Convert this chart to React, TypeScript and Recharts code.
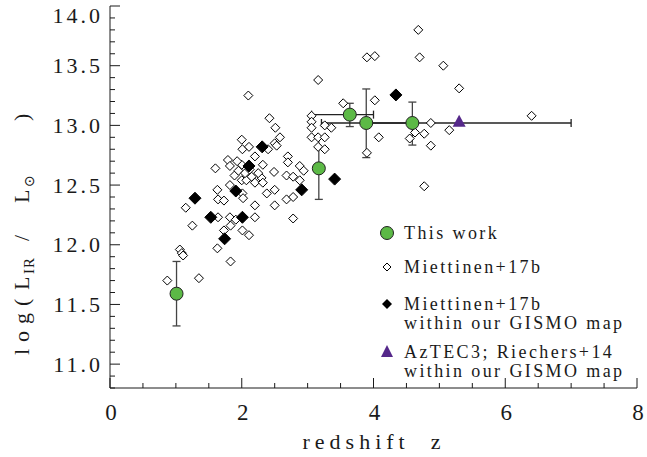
import { ScatterChart, Scatter, XAxis, YAxis, ErrorBar } from "recharts"

const W = 647
const H = 457
const FONT = "'Liberation Serif', 'DejaVu Serif', serif"
const INK = "#1a1a1a"
const GREEN = "#5cb946"
const PURPLE = "#55288a"

// Miettinen+17b, open diamonds: [z, log LIR]
const miettinen: [number, number][] = [
  [2.10, 13.25], [3.16, 13.38], [3.90, 13.57], [4.02, 13.58], [3.54, 13.185],
  [4.02, 13.21], [3.06, 13.08], [3.06, 13.03], [3.06, 12.98], [3.26, 13.0],
  [3.36, 12.98], [3.06, 12.9], [3.16, 12.9], [3.26, 12.9], [3.16, 12.82],
  [3.26, 12.8], [4.08, 12.9], [3.90, 12.77], [2.42, 13.06], [2.51, 12.98],
  [2.58, 12.9], [2.50, 12.85], [2.53, 12.83], [2.40, 12.8], [2.00, 12.88],
  [2.01, 12.8], [2.11, 12.82], [2.20, 12.74], [2.70, 12.74], [2.70, 12.69],
  [2.32, 12.67], [2.88, 12.66], [2.94, 12.62], [1.79, 12.71], [1.82, 12.66],
  [1.60, 12.64], [2.00, 12.67], [1.89, 12.58], [2.00, 12.54], [2.07, 12.54],
  [2.15, 12.57], [2.20, 12.52], [2.30, 12.56], [2.32, 12.52], [1.95, 12.62],
  [2.05, 12.6], [2.12, 12.63], [2.25, 12.6], [1.93, 12.7], [2.49, 12.61],
  [2.68, 12.58], [2.78, 12.57], [2.88, 12.54], [2.50, 12.46], [2.38, 12.43],
  [2.68, 12.38], [2.78, 12.4], [1.63, 12.46], [1.64, 12.38], [1.73, 12.37],
  [1.82, 12.5], [2.01, 12.43], [2.02, 12.39], [2.20, 12.33], [1.15, 12.31],
  [2.50, 12.33], [2.78, 12.22], [2.20, 12.23], [1.64, 12.23], [1.82, 12.23],
  [1.91, 12.21], [1.25, 12.16], [1.83, 12.16], [1.73, 12.12], [2.01, 12.12],
  [2.11, 12.08], [1.63, 11.97], [1.83, 11.86], [1.06, 11.96], [1.09, 11.93],
  [1.11, 11.91], [0.87, 11.7], [1.35, 11.72], [4.68, 13.8], [4.70, 13.57],
  [5.06, 13.5], [5.30, 13.31], [6.40, 13.08], [4.87, 13.02], [5.15, 12.96],
  [4.77, 12.93], [4.63, 12.94], [4.55, 12.89], [4.87, 12.83], [4.77, 12.49],
]

// Miettinen+17b inside the GISMO map, filled diamonds
const miettinenGismo: [number, number][] = [
  [2.31, 12.82], [2.11, 12.66], [3.41, 12.55], [2.91, 12.46], [1.91, 12.45],
  [1.29, 12.39], [1.53, 12.23], [2.01, 12.23], [1.74, 12.05], [4.34, 13.255],
]

// AzTEC3; Riechers+14
const aztec3: [number, number][] = [[5.3, 13.03]]

// This work
const thisWorkZ = [1.01, 3.17, 3.64, 3.89, 4.59]
const thisWorkL = [11.59, 12.64, 13.09, 13.02, 13.02]
const thisWorkLErr = [[0.27, 0.27], [0.26, 0.26], [0.1, 0.095], [0.29, 0.285], [0.185, 0.175]]
const thisWorkZErr = [[0, 0], [0, 0], [0.58, 0.36], [0.68, 0.7], [0.65, 2.41]]

const xTicks = Array.from({ length: 17 }, (_, i) => i * 0.5)
const yTicks = Array.from({ length: 33 }, (_, i) => Math.round((10.8 + i * 0.1) * 10) / 10)

const toPts = (arr: [number, number][]) => arr.map(([x, y]) => ({ x, y }))
const thisWork = thisWorkZ.map((x, i) => ({ x, y: thisWorkL[i], ey: thisWorkLErr[i], ex: thisWorkZErr[i] }))

const isMult = (v: number, step: number) => Math.abs(v / step - Math.round(v / step)) < 1e-6

const XTick = ({ x, y, payload, top }: any) => {
  const v = payload.value
  const major = isMult(v, 2)
  const len = major ? 10 : 5
  const dir = top ? 1 : -1
  return (
    <g>
      <line x1={x} y1={y} x2={x} y2={y + dir * len} stroke={INK} />
      {!top && major && (
        <text x={x + 1} y={y + 24} dy="0.35em" textAnchor="middle" fontFamily={FONT} fontSize={23} fill={INK}>
          {v}
        </text>
      )}
    </g>
  )
}

const YTick = ({ x, y, payload, right }: any) => {
  const v = payload.value
  const major = isMult(v, 0.5)
  const len = major ? 10 : 5
  const dir = right ? -1 : 1
  return (
    <g>
      <line x1={x} y1={y} x2={x + dir * len} y2={y} stroke={INK} />
      {!right && major && (
        <text
          x={x - 7}
          y={Math.max(y, 15.5)}
          dy="0.35em"
          textAnchor="end"
          fontFamily={FONT}
          fontSize={22}
          letterSpacing={3}
          fill={INK}
        >
          {v.toFixed(1)}
        </text>
      )}
    </g>
  )
}

const diamond = (r: number, fill: string) => (p: any) => (
  <polygon
    points={`${p.cx},${p.cy - r} ${p.cx + r},${p.cy} ${p.cx},${p.cy + r} ${p.cx - r},${p.cy}`}
    fill={fill}
    stroke="#000"
    strokeWidth={1}
  />
)

const triangle = (p: any) => (
  <polygon points={`${p.cx},${p.cy - 7} ${p.cx + 6.5},${p.cy + 5} ${p.cx - 6.5},${p.cy + 5}`} fill={PURPLE} />
)

const circle = (p: any) => <circle cx={p.cx} cy={p.cy} r={6.5} fill={GREEN} stroke="#222" strokeWidth={1} />

const legendRows = [
  { y: 233, lines: ["This work"], mark: "circle" },
  { y: 267, lines: ["Miettinen+17b"], mark: "open" },
  { y: 304, lines: ["Miettinen+17b", "within our GISMO map"], mark: "filled" },
  { y: 352, lines: ["AzTEC3; Riechers+14", "within our GISMO map"], mark: "tri" },
]

function LegendOverlay() {
  const mx = 387
  return (
    <svg width={W} height={H} style={{ position: "absolute", left: 0, top: 0, pointerEvents: "none" }}>
      {legendRows.map((r) => (
        <g key={r.y}>
          {r.mark === "circle" && <circle cx={mx} cy={r.y} r={6.5} fill={GREEN} stroke="#222" />}
          {r.mark === "open" && <polygon points={`${mx},${r.y - 4} ${mx + 4},${r.y} ${mx},${r.y + 4} ${mx - 4},${r.y}`} fill="#fff" stroke="#000" />}
          {r.mark === "filled" && <polygon points={`${mx},${r.y - 5} ${mx + 5},${r.y} ${mx},${r.y + 5} ${mx - 5},${r.y}`} fill="#000" />}
          {r.mark === "tri" && <polygon points={`${mx},${r.y - 7} ${mx + 6},${r.y + 5} ${mx - 6},${r.y + 5}`} fill={PURPLE} />}
          {r.lines.map((t, i) => (
            <text
              key={i}
              x={404}
              y={r.y + i * 19}
              dy="0.35em"
              fontFamily={FONT}
              fontSize={18}
              letterSpacing={2.4}
              fill={INK}
              style={{ whiteSpace: "pre" }}
            >
              {t}
            </text>
          ))}
        </g>
      ))}
    </svg>
  )
}

const XTitle = () => (
  <text x={374} y={449} textAnchor="middle" fontFamily={FONT} fontSize={22} letterSpacing={5} fill={INK} style={{ whiteSpace: "pre" }}>
    {"redshift  z"}
  </text>
)

// rotated title, positions along the axis given in screen y (negated)
const YTitle = () => (
  <text transform="rotate(-90)" y={29} fontFamily={FONT} fontSize={22} fill={INK} style={{ whiteSpace: "pre" }}>
    <tspan x={-355} letterSpacing={7}>log(</tspan>
    <tspan x={-290}>L</tspan>
    <tspan x={-274} dy={5} fontSize={15} letterSpacing={1}>IR</tspan>
    <tspan x={-241} dy={-5}>/</tspan>
    <tspan x={-203}>L</tspan>
    <tspan x={-187} dy={5} fontSize={14} fontFamily="'DejaVu Sans'">⊙</tspan>
    <tspan x={-121} dy={-5}>)</tspan>
  </text>
)

export default function App() {
  return (
    <div style={{ position: "absolute", left: 0, top: 0, width: W, height: H, background: "#fff" }}>
      <ScatterChart width={W} height={H} margin={{ top: 6, right: 10, bottom: 0, left: 0 }}>
        <XAxis
          type="number"
          dataKey="x"
          domain={[0, 8]}
          ticks={xTicks}
          interval={0}
          height={69}
          tickSize={0}
          tickMargin={0}
          stroke={INK}
          tick={(p: any) => <XTick {...p} />}
          label={{ content: () => <XTitle /> }}
        />
        <XAxis
          xAxisId="top"
          orientation="top"
          type="number"
          domain={[0, 8]}
          ticks={xTicks}
          interval={0}
          height={0}
          tickSize={0}
          tickMargin={0}
          stroke={INK}
          tick={(p: any) => <XTick {...p} top />}
        />
        <YAxis
          type="number"
          dataKey="y"
          domain={[10.8, 14]}
          ticks={yTicks}
          interval={0}
          width={110}
          tickSize={0}
          tickMargin={0}
          stroke={INK}
          tick={(p: any) => <YTick {...p} />}
          label={{ content: () => <YTitle /> }}
        />
        <YAxis
          yAxisId="right"
          orientation="right"
          type="number"
          domain={[10.8, 14]}
          ticks={yTicks}
          interval={0}
          width={0}
          tickSize={0}
          tickMargin={0}
          stroke={INK}
          tick={(p: any) => <YTick {...p} right />}
        />
        <Scatter data={toPts(miettinen)} shape={diamond(4.5, "#fff")} isAnimationActive={false} />
        <Scatter data={toPts(miettinenGismo)} shape={diamond(6, "#000")} isAnimationActive={false} />
        <Scatter data={toPts(aztec3)} shape={triangle} isAnimationActive={false} />
        <Scatter data={thisWork} shape={circle} isAnimationActive={false}>
          <ErrorBar dataKey="ey" direction="y" width={4} stroke="#444" strokeWidth={1.3} />
          <ErrorBar dataKey="ex" direction="x" width={4} stroke="#222" strokeWidth={1.3} />
        </Scatter>
      </ScatterChart>
      <LegendOverlay />
    </div>
  )
}
